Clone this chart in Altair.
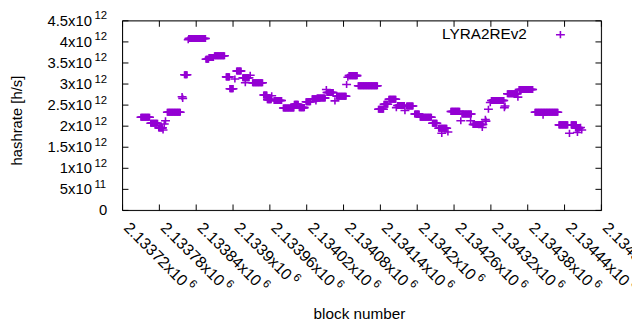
import altair as alt
import pandas as pd

# ---- data (hashrate in units of 1e12 h/s) ----
run_start = [2133750, 2133766, 2133779, 2133786, 2133788, 2133790, 2133793, 2133817, 2133818, 2133821,
             2133827, 2133828, 2133856, 2133861, 2133870, 2133889, 2133895, 2133903, 2133906, 2133916,
             2133920, 2133928, 2133932, 2133950, 2133956, 2133963, 2133967, 2133982, 2134000, 2134008,
             2134019, 2134029, 2134035, 2134037, 2134052, 2134053, 2134066, 2134069, 2134085, 2134087,
             2134089, 2134104, 2134137, 2134146, 2134154, 2134166, 2134168, 2134180, 2134183, 2134196,
             2134205, 2134225, 2134235, 2134240, 2134250, 2134255, 2134271, 2134273, 2134287, 2134291,
             2134306, 2134311, 2134312, 2134316, 2134319, 2134321, 2134342, 2134343, 2134347, 2134364,
             2134366, 2134392, 2134405, 2134431, 2134448, 2134451, 2134458, 2134461, 2134466, 2134468]
run_end = [2133764, 2133777, 2133785, 2133786, 2133788, 2133790, 2133814, 2133817, 2133818, 2133825,
           2133827, 2133855, 2133860, 2133868, 2133886, 2133894, 2133900, 2133903, 2133913, 2133926,
           2133920, 2133928, 2133948, 2133955, 2133962, 2133963, 2133979, 2133999, 2134006, 2134016,
           2134026, 2134036, 2134035, 2134050, 2134052, 2134063, 2134066, 2134084, 2134085, 2134087,
           2134102, 2134135, 2134145, 2134152, 2134165, 2134166, 2134179, 2134180, 2134193, 2134203,
           2134223, 2134232, 2134248, 2134240, 2134250, 2134269, 2134271, 2134288, 2134287, 2134307,
           2134306, 2134311, 2134312, 2134316, 2134319, 2134341, 2134342, 2134343, 2134363, 2134364,
           2134388, 2134429, 2134405, 2134445, 2134448, 2134459, 2134464, 2134461, 2134466, 2134468]
run_value = [2.21, 2.07, 1.96, 1.91, 2.05, 2.13, 2.33, 2.70, 2.66, 3.22,
             4.05, 4.08, 3.59, 3.63, 3.67, 3.17, 2.89, 3.12, 3.31, 3.15,
             3.03, 3.21, 3.03, 2.74, 2.63, 2.72, 2.61, 2.43, 2.52, 2.44,
             2.58, 2.65, 2.60, 2.67, 2.87, 2.80, 2.60, 2.71, 2.99, 3.16,
             3.20, 2.96, 2.40, 2.52, 2.64, 2.44, 2.49, 2.37, 2.48, 2.29,
             2.21, 2.07, 1.95, 1.83, 1.86, 2.35, 2.13, 2.29, 2.13, 2.04,
             1.97, 2.16, 2.12, 2.40, 2.56, 2.61, 2.44, 2.48, 2.77, 2.69,
             2.87, 2.33, 2.26, 2.03, 1.83, 2.03, 1.96, 1.85, 1.97, 1.91]

series_name = "LYRA2REv2"

x_tick_values = [2133720, 2133780, 2133840, 2133900, 2133960, 2134020, 2134080,
                 2134140, 2134200, 2134260, 2134320, 2134380, 2134440, 2134500]
x_tick_main = ["2.13372x10", "2.13378x10", "2.13384x10", "2.1339x10", "2.13396x10",
               "2.13402x10", "2.13408x10", "2.13414x10", "2.1342x10", "2.13426x10",
               "2.13432x10", "2.13438x10", "2.13444x10", "2.1345x10"]
x_tick_exp = ["6"] * 14

y_tick_values = [0, 0.5e12, 1.0e12, 1.5e12, 2.0e12, 2.5e12, 3.0e12, 3.5e12, 4.0e12, 4.5e12]
y_tick_main = ["0", "5x10", "1x10", "1.5x10", "2x10", "2.5x10", "3x10", "3.5x10", "4x10", "4.5x10"]
y_tick_exp = ["", "11", "12", "12", "12", "12", "12", "12", "12", "12"]

# ---- tables ----
blocks, rates = [], []
for s, e, v in zip(run_start, run_end, run_value):
    for b in range(s, e + 1):
        blocks.append(b)
        rates.append(v * 1e12)
pts = pd.DataFrame({"block": blocks, "hashrate": rates, "series": series_name})

W, H = 485, 192
PURPLE = "#9400d3"
FONT = "Liberation Sans"
FS_TICK = 15
FS_XTICK = 16
FS_EXP = 11.5
PLUS = "M-1,0L1,0M0,-0.8L0,0.8"

def text_width(s, fs):
    w = 0.0
    for ch in s:
        if ch.isdigit():
            w += 0.556
        elif ch == ".":
            w += 0.278
        else:
            w += 0.5
    return w * fs

xt = pd.DataFrame({"v": x_tick_values, "main": x_tick_main, "exp": x_tick_exp})
yt = pd.DataFrame({"v": y_tick_values, "main": y_tick_main, "exp": y_tick_exp})
one = pd.DataFrame({"series": [series_name]})

xs = alt.Scale(domain=[2133720, 2134500], nice=False, zero=False)
ys = alt.Scale(domain=[0, 4.5e12], nice=False, zero=False)
X = lambda f: alt.X(f, scale=xs, axis=None)
Y = lambda f: alt.Y(f, scale=ys, axis=None)

points = alt.Chart(pts).mark_point(shape=PLUS, filled=False, size=81, strokeWidth=1.6,
                                   color=PURPLE, opacity=1).encode(
    x=X("block:Q"), y=Y("hashrate:Q"))

frame = alt.Chart(one).mark_rect(fill=None, stroke="black", strokeWidth=1).encode(
    x=alt.value(0), x2=alt.value(W), y=alt.value(0), y2=alt.value(H))

tick_len = 6
xb = alt.Chart(xt).mark_rule(color="black", strokeWidth=1).encode(
    x=X("v:Q"), y=alt.value(H), y2=alt.value(H - tick_len))
xtop = alt.Chart(xt).mark_rule(color="black", strokeWidth=1).encode(
    x=X("v:Q"), y=alt.value(0), y2=alt.value(tick_len))
yl = alt.Chart(yt).mark_rule(color="black", strokeWidth=1).encode(
    y=Y("v:Q"), x=alt.value(0), x2=alt.value(tick_len))
yr = alt.Chart(yt).mark_rule(color="black", strokeWidth=1).encode(
    y=Y("v:Q"), x=alt.value(W - tick_len), x2=alt.value(W))

ylab = alt.Chart(yt).transform_filter("datum.exp != ''").mark_text(
    align="right", baseline="middle", font=FONT, fontSize=FS_TICK, color="black").encode(
    y=Y("v:Q"), x=alt.value(-31), text="main:N")
ylab0 = alt.Chart(yt).transform_filter("datum.exp == ''").mark_text(
    align="right", baseline="middle", font=FONT, fontSize=FS_TICK, color="black").encode(
    y=Y("v:Q"), x=alt.value(-15.5), text="main:N")
yexp = alt.Chart(yt).transform_filter("datum.exp != ''").mark_text(
    align="left", baseline="middle", font=FONT, fontSize=FS_EXP, color="black", dy=-4.5).encode(
    y=Y("v:Q"), x=alt.value(-28.5), text="exp:N")

xlab = alt.Chart(xt).mark_text(
    angle=45, align="left", baseline="middle", font=FONT, fontSize=FS_XTICK, color="black",
    dx=2.8, dy=-2.8).encode(
    x=X("v:Q"), y=alt.value(H + 15), text="main:N")

# exponent layers, one per label length (dx runs along the rotated text line)
xexp_layers = []
for n in sorted(set(len(m) for m in x_tick_main)):
    sample = [m for m in x_tick_main if len(m) == n][0]
    shift = text_width(sample, FS_XTICK) + 3
    xexp_layers.append(
        alt.Chart(xt).transform_filter(f"length(datum.main) == {n}").mark_text(
            angle=45, align="left", baseline="middle", font=FONT, fontSize=FS_EXP,
            color="black", dx=2.8 + shift, dy=-2.8 - 5).encode(
            x=X("v:Q"), y=alt.value(H + 15), text="exp:N"))

ytitle = alt.Chart(one).mark_text(
    text="hashrate [h/s]", angle=270, align="center", baseline="middle",
    font=FONT, fontSize=15, color="black").encode(
    x=alt.value(-107), y=alt.value(101))
xtitle = alt.Chart(one).mark_text(
    text="block number", align="center", baseline="alphabetic",
    font=FONT, fontSize=15.5, color="black").encode(
    x=alt.value(240), y=alt.value(302))

leg_text = alt.Chart(one).mark_text(
    align="right", baseline="middle", font=FONT, fontSize=15.5, color="black").encode(
    x=alt.value(409.5), y=alt.value(13.5), text="series:N")
leg_pt = alt.Chart(one).mark_point(shape=PLUS, filled=False, size=81, strokeWidth=1.6,
                                   color=PURPLE, opacity=1).encode(
    x=alt.value(443.5), y=alt.value(14))

chart = alt.layer(points, frame, xb, xtop, yl, yr, ylab, ylab0, yexp, xlab, *xexp_layers,
                  ytitle, xtitle, leg_text, leg_pt).properties(
    width=W, height=H,
    autosize=alt.AutoSizeParams(type="none"),
    padding={"left": 116, "top": 11, "right": 31, "bottom": 111},
).configure_view(stroke=None).configure(background="white")

chart.save("out.html", embed_options={"renderer": "svg", "actions": False})
